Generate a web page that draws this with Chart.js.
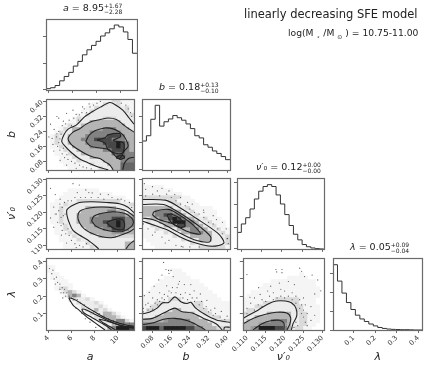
<!DOCTYPE html>
<html>
<head>
<meta charset="utf-8">
<script src="https://cdn.jsdelivr.net/npm/chart.js@4/dist/chart.umd.min.js"></script>
<style>
body { margin: 0; background: #fff; }
#page { position: relative; width: 443px; height: 368px; overflow: hidden; filter: blur(0.4px); font-family: "DejaVu Sans", sans-serif; color: #222; }
#page canvas { position: absolute; }
.t { position: absolute; white-space: nowrap; }
.pm { display: inline-block; vertical-align: middle; font-size: 6px; line-height: 5.5px; text-align: left; }
sub { font-size: 6px; margin: 0 3px; }
</style>
</head>
<body>
<div id="page">
<div class="t" style="left:63px;top:2px;font-size:9.5px"><i>a</i> = 8.95<span class="pm">+1.67<br>−2.28</span></div>
<div class="t" style="left:159px;top:81px;font-size:9.5px"><i>b</i> = 0.18<span class="pm">+0.13<br>−0.10</span></div>
<div class="t" style="left:256px;top:161px;font-size:9.5px"><i>ν′</i>₀ = 0.12<span class="pm">+0.00<br>−0.00</span></div>
<div class="t" style="left:350px;top:241px;font-size:9.5px"><i>λ</i> = 0.05<span class="pm">+0.09<br>−0.04</span></div>
<div class="t" style="left:244px;top:7px;font-size:11.5px">linearly decreasing SFE model</div>
<div class="t" style="left:288px;top:27px;font-size:9.2px">log(M<sub>⋆</sub>/M<sub>⊙</sub>) = 10.75-11.00</div>
</div>
<script>
// axis ranges and ticks
const aRange = [3.8, 11.4];
const bRange = [0.034, 0.412];
const vRange = [0.1089, 0.1304];
const lRange = [0.005, 0.42];
const aTicks = [4, 6, 8, 10];
const bTicks = [0.08, 0.16, 0.24, 0.32, 0.40];
const vTicks = [0.110, 0.115, 0.120, 0.125, 0.130];
const lTicks = [0.1, 0.2, 0.3, 0.4];
const aLabels = ["4", "6", "8", "10"];
const bLabels = ["0.08", "0.16", "0.24", "0.32", "0.40"];
const vLabels = ["0.110", "0.115", "0.120", "0.125", "0.130"];
const lLabels = ["0.1", "0.2", "0.3", "0.4"];

// 1d histograms, 20 bins each
const aHist = [4, 7, 14, 29, 43, 56, 76, 91, 112, 128, 142, 155, 172, 182, 195, 207, 201, 185, 161, 117];
const bHist = [93, 110, 163, 208, 141, 155, 164, 175, 168, 160, 148, 133, 110, 103, 81, 73, 61, 53, 43, 33];
const vHist = [53, 80, 100, 128, 160, 185, 200, 206, 200, 173, 144, 110, 75, 47, 29, 14, 7, 3, 1, 0];
const lHist = [207, 155, 117, 87, 65, 47, 35, 27, 19, 13, 8, 5, 3, 2, 1.5, 1, 1, 0.5, 0, 0];
const aHistTicks = [0, 85, 170];
const bHistTicks = [0, 88, 173];
const vHistTicks = [0, 70, 142, 213];
const lHistTicks = [0, 58, 118, 178];

// 2d histograms, top row first, one digit per bin (density level 0-9)
const abCells = [
  "00000000000011133111", "00000000001113223111", "00000000011322222231", "00000000113222222231",
  "00000001132222222223", "00000013222223332222", "00000113224444444222", "00001322444444444422",
  "00013244444446664442", "00132244446666666444", "01322444466666888644", "01322444666888866644",
  "01322444466668889864", "01132244446666889864", "00113224444446688864", "00111322444444477766",
  "00011132224444448866", "00011113222224444666", "00001111113222444777", "00000111111132244777"
];
const avCells = [
  "00000000000000000000", "00000000000000000000", "00000000000000000000", "00000111111100000000",
  "00001111111111100000", "00011111111111111100", "00111113333333333110", "01113222222222222223",
  "01132222244444442222", "01132222444444664422", "01132224444466666644", "01132224446666688866",
  "01132224446668889866", "00113222444666889866", "00113222244446688864", "00111322224444455544",
  "00011132222244443333", "00011113222222222222", "00001111132222222244", "00001111113222222244"
];
const alCells = [
  "00000000000000000000", "00000000000000000000", "11000000000000000000", "11000000000000000000",
  "01100000000000000000", "01110000000000000000", "00111000000000000000", "00111100000000000000",
  "00133100000000000000", "00013431000000000000", "00001464100000000000", "00000132231000000000",
  "00000013222310000000", "00000001322231000000", "00000000132423100000", "00000000013224431000",
  "00000000001324443100", "00000000000132446631", "00000000000013244666", "00000000000002469998"
];
const bvCells = [
  "00000000000000000000", "00000000000000000000", "11111000000000000000", "11111110000000000000",
  "11111111100000000000", "33333333311000000000", "22222233111100000000", "22222223311110000000",
  "44444442223111110000", "44466664422311111000", "44466886642231111000", "22446689864422311100",
  "13224469996642231110", "11322444886644223110", "11132222444664422311", "11111322244666442231",
  "11111113222444442223", "01111111132224442223", "00111111111322222223", "00011111111113333331"
];
const blCells = [
  "00000000000000000000", "00000000000000000000", "00000000000000000000", "00000011100000000000",
  "00000001110000000000", "00000111111000000000", "00001111111110000000", "00011111111111000000",
  "00111111111111100000", "01111111111111110000", "11111111111111111000", "11111133311111111100",
  "11133222222233111111", "11332222222233111111", "13322224422223311111", "22222444444422331111",
  "22244444444442223311", "44444566666444422233", "66666666666644442222", "89997999998866444333"
];
const vlCells = [
  "00000000000000000000", "00000000000000000000", "00000000000000000000", "00000000000000000000",
  "00000000000000100000", "00000000000111110000", "00000001111111111100", "00000111111111111100",
  "00001111111111111110", "00111111111111111110", "01111111111111111110", "11111111333333111100",
  "11111332222233111100", "11133222222223311110", "13322222222223311110", "33222244444422331110",
  "22244444444422331110", "24444446666422331110", "44445666665422331100", "44569999886423311000"
];

// contour lines, [x, y] in data units
const abContours = [
  [[11.4,.278],[10.98,.311],[10.43,.353],[9.88,.378],[9.32,.394],[8.49,.369],[7.79,.344],[7.10,.316],[6.41,.273],[5.71,.252],[5.35,.222],[5.16,.186],[5.44,.161],[5.99,.127],[6.68,.094],[7.38,.074],[8.07,.055],[8.90,.039],[9.18,.034]],
  [[11.4,.236],[10.98,.252],[10.43,.278],[9.88,.303],[9.18,.311],[8.49,.303],[7.79,.294],[7.24,.277],[6.68,.252],[6.13,.236],[5.71,.202],[5.99,.169],[6.55,.144],[7.24,.119],[7.93,.102],[8.49,.094],[8.90,.077],[9.32,.060],[9.6,.034]],
  [[7.24,.186],[7.52,.219],[8.07,.244],[8.90,.258],[9.60,.253],[10.15,.236],[10.57,.211],[10.90,.161],[10.57,.136],[10.15,.094],[9.88,.102],[9.6,.122],[9.18,.144],[8.35,.152],[7.66,.161],[7.24,.186]],
  [[11.4,.102],[10.9,.094],[10.57,.069],[10.43,.034]],
  [[8.21,.194],[8.90,.206],[9.18,.222],[10.15,.228],[10.24,.211],[9.6,.191],[10.51,.177],[10.43,.127],[9.88,.122],[9.13,.144],[8.9,.177],[8.21,.194]],
  [[9.88,.102],[10.3,.114],[10.6,.102],[10.24,.09],[9.88,.102]]
];
const avContours = [
  [[11.4,.1199],[10.85,.1216],[10.15,.1226],[9.04,.1230],[7.79,.1232],[6.68,.1230],[5.99,.1219],[5.63,.1209],[5.58,.1202],[5.63,.1188],[5.8,.1169],[6.13,.1145],[6.68,.1131],[7.38,.1117],[8.07,.1098],[8.35,.1089]],
  [[10.71,.1089],[10.98,.1102],[11.4,.1114]],
  [[11.4,.1188],[10.71,.1205],[9.74,.1213],[8.63,.1216],[7.52,.1213],[6.74,.1204],[6.55,.1188],[6.68,.1169],[7.1,.1150],[7.79,.1136],[8.63,.1126],[9.46,.1123],[10.29,.1131],[10.98,.1140],[11.4,.1150]],
  [[7.74,.1174],[7.93,.1188],[8.63,.1197],[9.6,.1202],[10.57,.1197],[11.18,.1183],[11.35,.1169],[11.12,.1155],[10.43,.1142],[9.6,.1142],[8.77,.1148],[8.07,.1159],[7.74,.1174]],
  [[9.04,.1169],[9.46,.1176],[10.29,.1180],[10.57,.1169],[10.51,.1150],[9.88,.1148],[9.32,.1159],[9.04,.1169]]
];
const alContours = [
  [[11.4,.027],[10.71,.034],[9.88,.049],[8.9,.076],[8.07,.107],[7.24,.140],[6.41,.176],[5.8,.191],[5.8,.185],[6.13,.149],[6.68,.118],[7.24,.085],[7.79,.058],[8.35,.031],[8.9,.005]],
  [[11.4,.02],[10.57,.027],[9.74,.043],[8.9,.067],[8.07,.094],[7.38,.118],[6.91,.125],[7.1,.103],[7.79,.076],[8.49,.049],[9.18,.021],[9.46,.005]],
  [[11.4,.016],[10.29,.03],[9.18,.054],[8.4,.067],[8.77,.045],[9.46,.02],[9.8,.005]]
];
const bvContours = [
  [[.034,.1239],[.134,.1237],[.182,.1221],[.265,.1183],[.361,.1136],[.386,.1107],[.333,.1097],[.251,.1110],[.196,.1126],[.148,.1145],[.093,.1159],[.034,.1174]],
  [[.034,.1224],[.127,.1224],[.175,.1207],[.230,.1183],[.285,.1155],[.329,.1126],[.324,.1110],[.258,.1117],[.189,.1140],[.127,.1164],[.079,.1178],[.034,.1183]],
  [[.079,.1192],[.086,.1202],[.148,.1209],[.203,.1188],[.258,.1159],[.285,.1134],[.230,.1142],[.161,.1167],[.106,.1178],[.079,.1192]],
  [[.141,.1192],[.161,.1195],[.203,.1178],[.219,.1159],[.196,.1154],[.161,.1169],[.141,.1192]]
];
const blContours = [
  [[.034,.098],[.065,.107],[.099,.131],[.123,.162],[.148,.163],[.175,.196],[.203,.167],[.228,.158],[.244,.165],[.265,.131],[.306,.094],[.354,.063],[.412,.049]],
  [[.034,.067],[.079,.072],[.127,.103],[.175,.131],[.203,.112],[.251,.103],[.299,.072],[.354,.04],[.379,.005]],
  [[.034,.036],[.079,.045],[.127,.067],[.175,.072],[.23,.058],[.285,.023],[.306,.005]],
  [[.386,.005],[.389,.021],[.412,.021]]
];
const vlContours = [
  [[.1089,.072],[.1108,.094],[.1131,.122],[.1155,.154],[.1178,.172],[.1202,.172],[.1218,.162],[.1230,.131],[.1232,.085],[.1222,.04],[.1218,.005]],
  [[.1089,.04],[.1116,.071],[.1147,.094],[.1178,.107],[.1206,.103],[.1216,.076],[.1214,.04],[.1206,.005]],
  [[.1116,.005],[.1139,.04],[.1163,.058],[.1186,.061],[.1198,.045],[.1198,.005]]
];

// stray samples outside the contours
const abDots = [[4.19,.278],[4.74,.319],[5.3,.294],[6.13,.353],[6.68,.328],[6.96,.37],[4.33,.202],[4.05,.21],[4.47,.135],[5.02,.085],[5.58,.06],[6.41,.043],[7.52,.386],[4.74,.227],[5.58,.336],
  [4.9,.31],[5.2,.27],[5.5,.28],[5.8,.30],[6.0,.27],[6.2,.31],[6.4,.33],[6.6,.30],[6.9,.34],[7.1,.36],[7.3,.34],[7.6,.37],[7.9,.38],[8.2,.39],[8.5,.40],[4.5,.25],[4.7,.21],[4.9,.24],[5.0,.2],[4.4,.17],[4.8,.16],[5.0,.14],[5.2,.12],[5.4,.10],[5.7,.09],[6.0,.08],[6.3,.07],[6.7,.06],[7.0,.05],[7.3,.045],[7.7,.04],[4.9,.18],[5.3,.15],[5.6,.115],[10.9,.36],[11.1,.34],[11.2,.32],[10.7,.38],[10.3,.39],[5.1,.225]];
const avDots = [[4.19,.1273],[4.6,.1254],[5.02,.124],[4.47,.1216],[4.19,.1183],[4.47,.1155],[5.13,.1131],[5.58,.1107],[6.41,.1093],[6.68,.1283],[7.24,.1268],[6.13,.1287],[7.79,.1259],[9.18,.1254],[10.29,.124],
  [4.6,.1195],[4.9,.1205],[5.1,.1185],[5.3,.119],[5.2,.1215],[5.0,.1225],[5.4,.123],[5.7,.1235],[6.0,.1235],[6.3,.1245],[6.8,.1245],[7.2,.1245],[7.7,.1245],[8.3,.1245],[8.8,.124],[9.5,.1245],[10.0,.124],[10.6,.1235],[11.0,.123],[11.2,.1215],[4.8,.117],[5.1,.116],[5.2,.1145],[5.5,.1135],[5.8,.113],[5.7,.115],[6.0,.1115],[6.3,.1105],[6.7,.11],[7.0,.1095],[7.3,.1105],[4.7,.1195],[5.3,.1165],[5.45,.1195],[6.5,.126],[7.5,.126],[8.5,.1255]];
const bvDots = [[.044,.1287],[.079,.1278],[.12,.1273],[.175,.1254],[.23,.1230],[.299,.1207],[.354,.1178],[.396,.1150],[.402,.1121],[.079,.1131],[.134,.1107],[.203,.1097],
  [.05,.125],[.08,.1255],[.11,.125],[.14,.1255],[.16,.1245],[.18,.1235],[.2,.1225],[.22,.122],[.24,.121],[.26,.12],[.28,.1195],[.3,.1185],[.32,.117],[.34,.1165],[.36,.115],[.38,.1135],[.4,.112],[.405,.1105],[.04,.1165],[.06,.115],[.09,.114],[.12,.1125],[.15,.1115],[.18,.11],[.21,.1095],[.24,.1095],[.28,.1095],[.05,.127],[.1,.1265],[.15,.1265],[.2,.1245],[.25,.1225],[.3,.12],[.34,.119],[.38,.117]];
const blDots = [[.127,.395],[.137,.354],[.148,.349],[.159,.349],[.150,.331],[.168,.313],[.12,.322],[.106,.294],[.195,.285],[.216,.267],[.086,.258],[.244,.267],[.258,.231],[.065,.222],[.285,.213],[.313,.176],[.044,.203],[.347,.131],[.375,.112],
  [.04,.11],[.04,.13],[.05,.15],[.06,.12],[.07,.14],[.08,.125],[.09,.16],[.1,.15],[.1,.18],[.11,.17],[.12,.19],[.13,.18],[.13,.21],[.145,.2],[.15,.23],[.16,.22],[.165,.25],[.18,.22],[.185,.25],[.19,.27],[.2,.21],[.21,.19],[.22,.22],[.23,.18],[.24,.21],[.25,.19],[.26,.17],[.27,.19],[.28,.15],[.29,.17],[.3,.13],[.31,.14],[.32,.11],[.33,.12],[.34,.09],[.35,.1],[.37,.08],[.39,.065],[.4,.085],[.06,.16],[.08,.19],[.11,.22],[.14,.26]];
const vlDots = [[.1177,.354],[.1179,.34],[.1193,.354],[.1193,.336],[.124,.362],[.1245,.344],[.11,.325],[.1253,.313],[.1273,.322],[.1288,.294],[.1131,.249],[.1186,.276],[.1163,.258],[.1108,.194],[.128,.213],[.1296,.231],[.121,.285],[.1226,.267],
  [.11,.1],[.11,.13],[.111,.16],[.112,.12],[.113,.15],[.114,.14],[.114,.18],[.115,.17],[.116,.2],[.117,.18],[.117,.22],[.118,.19],[.119,.24],[.119,.2],[.12,.19],[.12,.23],[.121,.2],[.122,.18],[.122,.22],[.123,.16],[.123,.2],[.124,.13],[.124,.18],[.1245,.1],[.1245,.15],[.125,.08],[.125,.12],[.125,.19],[.1255,.05],[.1255,.15],[.126,.03],[.126,.1],[.127,.06],[.127,.14],[.128,.09],[.123,.05],[.1235,.03],[.1225,.02],[.112,.19],[.1135,.21],[.1155,.23]];
const alDots = [[4.1,.36],[4.3,.33],[4.4,.35],[4.5,.3],[4.7,.31],[4.8,.28],[5,.27],[5.0,.24],[5.2,.25],[5.3,.22],[5.4,.24],[5.5,.2],[5.6,.22],[5.8,.2],[5.9,.17],[6.0,.19],[6.2,.18],[6.4,.13],[6.5,.18],[6.8,.16],[6.9,.1],[7.1,.15],[7.2,.07],[7.5,.13],[7.6,.05],[7.9,.11],[8.1,.02],[8.4,.1],[8.8,.085],[9.2,.07],[9.6,.06],[10,.05],[10.5,.045],[11,.04],[5.1,.22],[5.25,.19],[4.6,.27]];

// pixel boxes of the panel grid
const colBox = [[46, 137], [142, 233], [237, 328], [333, 424]];
const rowBox = [[15, 91], [95, 171], [174, 250], [254, 330]];
const levelColors = ["", "#f5f5f5", "#ececec", "#dadada", "#b4b4b4", "#9a9a9a", "#828282", "#666666", "#484848", "#1e1e1e"];
const spine = "#6a6a6a";

const params = [
  { range: aRange, ticks: aTicks, labels: aLabels, name: "a" },
  { range: bRange, ticks: bTicks, labels: bLabels, name: "b" },
  { range: vRange, ticks: vTicks, labels: vLabels, name: "ν′₀" },
  { range: lRange, ticks: lTicks, labels: lLabels, name: "λ" },
];

const frame = {
  id: "frame",
  afterDraw(chart) {
    const c = chart.ctx, a = chart.chartArea;
    c.save();
    c.strokeStyle = spine;
    c.lineWidth = 1.2;
    c.strokeRect(Math.round(a.left) + 0.5, Math.round(a.top) + 0.5, Math.round(a.width), Math.round(a.height));
    c.restore();
  }
};

function axis(range, ticks, labels, size, title) {
  return {
    type: "linear",
    min: range[0],
    max: range[1],
    offset: false,
    afterBuildTicks(scale) { scale.ticks = ticks.map(v => ({ value: v })); },
    afterFit(scale) {
      if (scale.isHorizontal()) scale.height = size; else scale.width = size;
    },
    ticks: {
      autoSkip: false, minRotation: 45, maxRotation: 45, padding: 1, color: "#333",
      font: { size: 6.8, family: "DejaVu Sans" },
      callback: (v, i) => labels ? labels[i] : ""
    },
    grid: { offset: false, drawOnChartArea: false, tickLength: 3, tickColor: spine, tickWidth: 1 },
    border: { display: false },
    title: title ? {
      display: true, text: title, color: "#222", padding: { top: 6, bottom: 4 },
      font: { size: 11, style: "italic", family: "DejaVu Sans" }
    } : { display: false }
  };
}

function addChart(col, row, datasets, yRange, yTicks, yLabels, yTitle) {
  const [x0, x1] = colBox[col], [y0, y1] = rowBox[row];
  const left = col == 0 ? 46 : 5, bottom = row == 3 ? 38 : 4, pad = 1;
  const canvas = document.createElement("canvas");
  canvas.width = x1 - x0 + left + pad;
  canvas.height = y1 - y0 + bottom + pad;
  canvas.style.left = (x0 - left) + "px";
  canvas.style.top = (y0 - pad) + "px";
  document.getElementById("page").appendChild(canvas);
  const p = params[col];
  new Chart(canvas, {
    type: "bar",
    data: { datasets: datasets },
    options: {
      responsive: false, animation: false, devicePixelRatio: 1,
      layout: { padding: { top: pad, right: pad, left: 0, bottom: 0 } },
      plugins: { legend: { display: false }, tooltip: { enabled: false } },
      scales: {
        x: axis(p.range, p.ticks, row == 3 ? p.labels : null, bottom, row == 3 ? p.name : null),
        y: axis(yRange, yTicks, col == 0 ? yLabels : null, left, col == 0 ? yTitle : null)
      }
    },
    plugins: [frame]
  });
}

function histPanel(i, values, ticks, top) {
  const r = params[i].range, w = (r[1] - r[0]) / values.length;
  const pts = values.map((v, k) => ({ x: r[0] + k * w, y: v }));
  pts.push({ x: r[1], y: values[values.length - 1] });
  // "before" holds each value until the next bin edge
  const ds = [{ type: "line", data: pts, stepped: "before", borderColor: "#333", borderWidth: 1, pointRadius: 0, fill: false }];
  addChart(i, i, ds, [0, top], ticks, null, null);
}

function cornerPanel(col, row, cells, contours, dots) {
  const xr = params[col].range, yr = params[row].range;
  const w = (xr[1] - xr[0]) / 20, h = (yr[1] - yr[0]) / 20;
  const bars = [], colors = [];
  cells.forEach((line, i) => {
    [...line].forEach((d, j) => {
      if (d == "0") return;
      const top = yr[1] - i * h;
      bars.push({ x: xr[0] + (j + 0.5) * w, y: [top - h, top] });
      colors.push(levelColors[+d]);
    });
  });
  const ds = contours.map(c => ({
    type: "line", data: c.map(p => ({ x: p[0], y: p[1] })), borderColor: "#222", borderWidth: 1.1,
    pointRadius: 0, tension: 0.3, fill: false
  }));
  ds.push({ type: "scatter", data: dots.map(p => ({ x: p[0], y: p[1] })), pointRadius: 0.6, pointBorderWidth: 0, pointBackgroundColor: "#555" });
  ds.push({ type: "bar", data: bars, backgroundColor: colors, borderWidth: 0, barPercentage: 1, categoryPercentage: 1, grouped: false });
  addChart(col, row, ds, yr, params[row].ticks, params[row].labels, params[row].name);
}

histPanel(0, aHist, aHistTicks, 226);
histPanel(1, bHist, bHistTicks, 228);
histPanel(2, vHist, vHistTicks, 227);
histPanel(3, lHist, lHistTicks, 228);
cornerPanel(0, 1, abCells, abContours, abDots);
cornerPanel(0, 2, avCells, avContours, avDots);
cornerPanel(0, 3, alCells, alContours, alDots);
cornerPanel(1, 2, bvCells, bvContours, bvDots);
cornerPanel(1, 3, blCells, blContours, blDots);
cornerPanel(2, 3, vlCells, vlContours, vlDots);
</script>
</body>
</html>
